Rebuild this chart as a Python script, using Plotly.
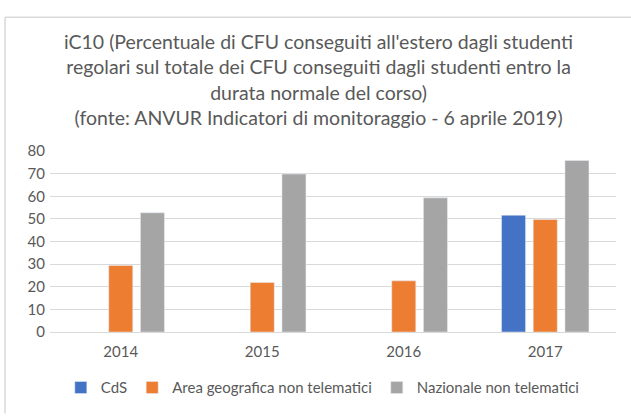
import plotly.graph_objects as go

years = ["2014", "2015", "2016", "2017"]
cds = [None, None, None, 51.6]
area_geo = [29.4, 21.9, 22.6, 49.7]
nazionale = [52.7, 69.8, 59.3, 75.8]

title_lines = [
    "iC10 (Percentuale di CFU conseguiti all'estero dagli studenti",
    "regolari sul totale dei CFU conseguiti dagli studenti entro la",
    "durata normale del corso)",
    "(fonte: ANVUR Indicatori di monitoraggio - 6 aprile 2019)",
]

FONT = "Lato"
GRAY_TXT = "#595959"

fig = go.Figure()
fig.add_trace(go.Bar(x=years, y=cds, name="CdS", marker_color="#4472C4"))
fig.add_trace(go.Bar(x=years, y=area_geo, name="Area geografica non telematici", marker_color="#ED7D31"))
fig.add_trace(go.Bar(x=years, y=nazionale, name="Nazionale non telematici", marker_color="#A5A5A5"))

fig.update_layout(
    width=631, height=416,
    margin=dict(l=50, r=15, t=151, b=77),
    paper_bgcolor="white", plot_bgcolor="white",
    font=dict(family=FONT, color=GRAY_TXT, size=14),
    barmode="group", bargap=0.328, bargroupgap=0.243,
    legend=dict(orientation="h", x=0.482, xanchor="center", y=-0.308, yanchor="middle",
                font=dict(size=15, color=GRAY_TXT), itemwidth=30, traceorder="normal"),
    xaxis=dict(showgrid=False, showline=False, ticks="", ticklabelstandoff=9,
               tickfont=dict(size=15, color=GRAY_TXT)),
    yaxis=dict(range=[0, 80], dtick=10, showgrid=True, gridcolor="#d9d9d9", gridwidth=1,
               zeroline=True, zerolinecolor="#d9d9d9", zerolinewidth=1,
               showline=False, ticks="", ticklabelstandoff=4,
               tickfont=dict(size=15, color=GRAY_TXT)),
    annotations=[dict(text="<br>".join(title_lines), xref="paper", yref="paper",
                      x=0.474, y=1.396, xanchor="center", yanchor="middle",
                      showarrow=False, align="center",
                      font=dict(family=FONT, size=19.5, color=GRAY_TXT))],
    shapes=[
        dict(type="line", xref="paper", yref="paper", x0=-0.0795, x1=-0.0795, y0=1.739, y1=-0.45,
             line=dict(color="#d9d9d9", width=1.5)),
        dict(type="line", xref="paper", yref="paper", x0=-0.0795, x1=1.05, y0=1.739, y1=1.739,
             line=dict(color="#d9d9d9", width=1.5)),
    ],
)

fig.write_html("out.html", config={"displayModeBar": False},
               post_script="document.body.style.margin='0';document.body.style.overflow='hidden';")
